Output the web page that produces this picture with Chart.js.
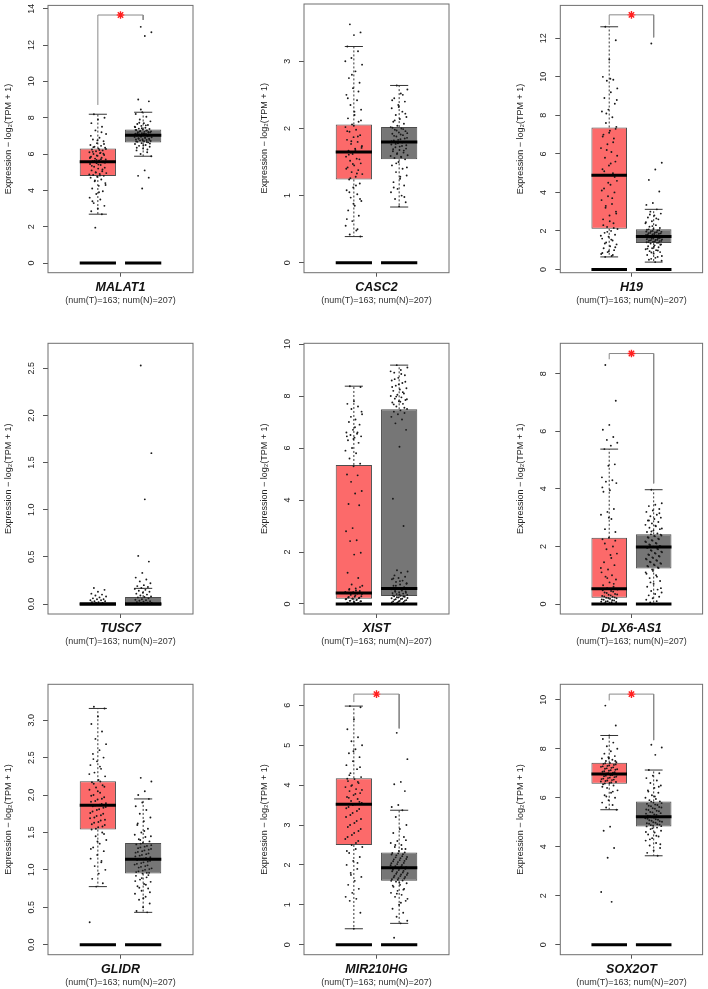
<!DOCTYPE html>
<html>
<head>
<meta charset="utf-8">
<script src="https://cdn.jsdelivr.net/npm/chart.js@4.4.1/dist/chart.umd.min.js"></script>
<style>
html, body { margin: 0; padding: 0; background: #fff; }
#wrap { position: relative; width: 708px; height: 989px; overflow: hidden; }
#wrap canvas { position: absolute; }
</style>
</head>
<body>
<div id="wrap"></div>
<script>
// ---- data ----
var genes = ["MALAT1", "CASC2", "H19", "TUSC7", "XIST", "DLX6-AS1", "GLIDR", "MIR210HG", "SOX2OT"];
var subtitle = "(num(T)=163; num(N)=207)";
var yTitle = "Expression \u2212 log\u2082(TPM + 1)";

// [lower whisker, q1, median, q3, upper whisker]
var tStats = [
    [2.69, 4.79, 5.57, 6.30, 8.19],
    [0.39, 1.24, 1.65, 2.06, 3.22],
    [0.65, 2.11, 4.89, 7.37, 12.6],
    [0, 0, 0, 0, 0],
    [0, 0.205, 0.42, 5.35, 8.38],
    [0, 0.22, 0.53, 2.30, 5.38],
    [0.776, 1.538, 1.864, 2.185, 3.157],
    [0.40, 2.50, 3.52, 4.17, 5.98],
    [5.51, 6.57, 6.97, 7.43, 8.54]
];
var nStats = [
    [5.88, 6.64, 7.03, 7.35, 8.30],
    [0.83, 1.54, 1.80, 2.02, 2.64],
    [0.38, 1.37, 1.71, 2.09, 3.12],
    [0, 0, 0, 0.074, 0.166],
    [0, 0.31, 0.60, 7.49, 9.19],
    [0, 1.23, 1.98, 2.42, 3.97],
    [0.432, 0.95, 1.141, 1.36, 1.948],
    [0.535, 1.60, 1.93, 2.31, 3.37],
    [3.63, 4.83, 5.22, 5.85, 7.13]
];

var tPoints = [
    [8.19, 8.0, 7.9, 7.7, 7.5, 7.3, 7.1, 6.9, 6.8, 6.7, 6.6, 6.5, 6.45, 6.4, 6.35, 6.3, 6.25, 6.2, 6.15, 6.1, 6.05, 6.0, 5.95, 5.9, 5.85, 5.8, 5.75, 5.7, 5.65, 5.6, 5.55, 5.5, 5.45, 5.4, 5.3, 5.25, 5.2, 5.1, 5.05, 5.0, 4.95, 4.9, 4.85, 4.8, 4.75, 4.7, 4.6, 4.5, 4.4, 4.25, 4.1, 3.95, 3.8, 3.6, 3.5, 3.3, 3.15, 3.0, 2.85, 2.69, 1.95,
     6.28, 6.22, 6.12, 6.02, 5.92, 5.82, 5.72, 5.62, 5.52, 5.42, 5.35, 5.15, 4.98, 4.88, 4.82, 6.38, 6.55, 6.75, 7.0, 7.2, 4.55, 4.3, 3.9, 3.4, 5.58, 5.68, 5.78, 6.08],
    [3.55, 3.43, 3.39, 3.22, 3.15, 3.05, 2.95, 2.85, 2.75, 2.68, 2.6, 2.5, 2.42, 2.35, 2.28, 2.2, 2.15, 2.1, 2.06, 2.02, 1.98, 1.95, 1.9, 1.87, 1.83, 1.8, 1.77, 1.73, 1.7, 1.67, 1.65, 1.62, 1.58, 1.55, 1.52, 1.48, 1.45, 1.42, 1.38, 1.35, 1.32, 1.28, 1.24, 1.18, 1.12, 1.08, 1.02, 0.97, 0.92, 0.85, 0.78, 0.7, 0.62, 0.55, 0.48, 0.42, 0.39,
     2.04, 1.96, 1.88, 1.81, 1.74, 1.68, 1.61, 1.54, 1.47, 1.4, 1.33, 1.26, 2.12, 2.25, 2.45, 2.55, 2.8, 3.0, 1.15, 1.05, 0.95, 0.88, 0.65, 0.5, 1.64, 1.71],
    [12.6, 11.9, 10.9, 10.0, 9.85, 9.8, 9.4, 9.2, 8.9, 8.6, 8.3, 8.2, 7.9, 7.6, 7.4, 7.2, 7.0, 6.8, 6.5, 6.3, 6.1, 5.8, 5.6, 5.4, 5.2, 5.0, 4.9, 4.6, 4.4, 4.2, 4.0, 3.8, 3.6, 3.4, 3.2, 3.0, 2.8, 2.6, 2.4, 2.2, 2.1, 2.0, 1.9, 1.8, 1.7, 1.6, 1.5, 1.4, 1.3, 1.2, 1.1, 1.0, 0.9, 0.8, 0.7, 0.65,
     7.3, 7.1, 6.9, 6.6, 6.2, 5.9, 5.5, 5.1, 4.8, 4.5, 4.1, 3.7, 3.3, 2.9, 2.5, 2.3, 2.15, 1.95, 1.75, 1.55, 1.35, 1.15, 0.95, 0.85, 0.75, 8.1, 8.8, 9.9],
    [0.17, 0.15, 0.13, 0.11, 0.1, 0.09, 0.08, 0.07, 0.06, 0.05, 0.05, 0.04, 0.04, 0.03, 0.03, 0.02, 0.02, 0.01, 0.01, 0, 0, 0, 0, 0, 0],
    [8.38, 8.35, 7.8, 7.7, 7.6, 7.5, 7.3, 7.1, 7.0, 6.9, 6.7, 6.6, 6.55, 6.5, 6.45, 6.4, 6.3, 6.2, 6.0, 5.9, 5.8, 5.6, 5.4, 5.3, 4.98, 4.95, 4.7, 4.35, 4.25, 3.85, 3.8, 2.92, 2.8, 2.45, 2.42, 1.97, 1.9, 1.2, 1.0, 0.75, 0.7, 0.6, 0.55, 0.5, 0.45, 0.42, 0.4, 0.35, 0.3, 0.28, 0.25, 0.22, 0.2, 0.18, 0.15, 0.12, 0.1, 0.08, 0.05, 0.02,
     0.41, 0.38, 0.33, 0.27, 0.24, 0.21, 0.19, 0.16, 0.13, 0.11, 0.07, 0.04, 0.03, 0.01, 0.46, 0.52, 0.58, 0.65, 6.35, 6.45, 6.6, 7.2, 7.4, 6.8],
    [8.3, 7.06, 6.22, 6.05, 5.8, 5.7, 5.6, 5.5, 5.38, 4.85, 4.8, 4.4, 4.3, 4.25, 4.2, 3.95, 3.9, 3.3, 3.2, 3.1, 2.95, 2.6, 2.5, 2.3, 2.25, 2.0, 1.9, 1.75, 1.7, 1.45, 1.35, 1.2, 1.1, 1.0, 0.95, 0.85, 0.75, 0.65, 0.6, 0.55, 0.5, 0.45, 0.4, 0.35, 0.32, 0.28, 0.25, 0.22, 0.2, 0.18, 0.15, 0.12, 0.1, 0.08, 0.06, 0.04, 0.02,
     0.52, 0.48, 0.43, 0.38, 0.33, 0.3, 0.26, 0.23, 0.21, 0.16, 0.13, 0.09, 0.07, 0.03, 0.01, 0.7, 0.9, 1.25, 1.6, 2.1, 2.2, 3.0, 4.05],
    [3.18, 3.157, 3.05, 2.95, 2.85, 2.75, 2.68, 2.6, 2.55, 2.5, 2.45, 2.4, 2.35, 2.3, 2.25, 2.2, 2.17, 2.13, 2.1, 2.07, 2.03, 2.0, 1.97, 1.94, 1.91, 1.88, 1.86, 1.84, 1.81, 1.78, 1.75, 1.72, 1.69, 1.66, 1.63, 1.6, 1.57, 1.54, 1.5, 1.45, 1.4, 1.35, 1.3, 1.25, 1.2, 1.15, 1.1, 1.05, 1.0, 0.95, 0.88, 0.82, 0.776, 0.3,
     2.18, 2.15, 2.11, 2.05, 1.99, 1.95, 1.92, 1.89, 1.87, 1.85, 1.83, 1.8, 1.76, 1.73, 1.7, 1.67, 1.64, 1.61, 1.58, 1.55, 2.28, 2.38, 2.48, 1.48, 1.38, 1.28, 1.12],
    [5.98, 5.95, 5.65, 5.4, 5.2, 5.1, 5.0, 4.9, 4.8, 4.7, 4.6, 4.5, 4.4, 4.3, 4.2, 4.15, 4.1, 4.05, 4.0, 3.95, 3.9, 3.85, 3.8, 3.75, 3.7, 3.65, 3.6, 3.55, 3.52, 3.45, 3.4, 3.3, 3.2, 3.1, 3.0, 2.9, 2.8, 2.7, 2.6, 2.5, 2.45, 2.4, 2.3, 2.2, 2.1, 2.0, 1.9, 1.8, 1.7, 1.6, 1.5, 1.4, 1.3, 1.2, 1.15, 1.1, 0.8, 0.4,
     4.16, 4.08, 3.98, 3.88, 3.78, 3.68, 3.58, 3.5, 3.42, 3.35, 3.25, 3.15, 3.05, 2.95, 2.85, 2.75, 2.65, 2.55, 4.25, 4.45, 4.85, 2.35, 2.05, 1.75],
    [9.76, 8.95, 8.54, 8.4, 8.25, 8.1, 8.0, 7.9, 7.8, 7.7, 7.65, 7.6, 7.55, 7.5, 7.45, 7.42, 7.38, 7.34, 7.3, 7.26, 7.22, 7.18, 7.14, 7.1, 7.06, 7.02, 6.98, 6.95, 6.92, 6.88, 6.84, 6.8, 6.76, 6.72, 6.68, 6.64, 6.6, 6.55, 6.5, 6.4, 6.3, 6.2, 6.1, 6.0, 5.9, 5.8, 5.7, 5.6, 5.51, 4.82, 4.65, 3.95, 3.55, 2.15, 1.75,
     7.41, 7.36, 7.32, 7.28, 7.24, 7.2, 7.16, 7.12, 7.08, 7.04, 7.0, 6.96, 6.93, 6.9, 6.86, 6.82, 6.78, 6.74, 6.7, 6.66, 6.62, 6.58, 7.5, 7.6, 6.45, 6.25, 6.05]
];
var nPoints = [
    [13.0, 12.7, 12.5, 9.0, 8.9, 8.3, 8.2, 8.05, 7.9, 7.8, 7.7, 7.65, 7.6, 7.55, 7.5, 7.45, 7.4, 7.38, 7.35, 7.32, 7.3, 7.27, 7.25, 7.22, 7.2, 7.17, 7.15, 7.12, 7.1, 7.08, 7.05, 7.03, 7.0, 6.98, 6.95, 6.92, 6.9, 6.87, 6.85, 6.82, 6.8, 6.77, 6.75, 6.72, 6.7, 6.67, 6.64, 6.6, 6.55, 6.5, 6.45, 6.4, 6.3, 6.2, 6.1, 6.0, 5.88, 5.1, 4.8, 4.7, 4.1,
     7.33, 7.29, 7.24, 7.19, 7.14, 7.09, 7.04, 6.99, 6.94, 6.89, 6.84, 6.79, 6.74, 6.69, 6.66, 7.02, 7.06, 7.11, 7.16, 7.21, 7.42, 7.48, 7.58, 7.72, 6.58, 6.48, 6.35, 6.25, 8.45],
    [2.64, 2.58, 2.52, 2.45, 2.4, 2.35, 2.3, 2.25, 2.2, 2.17, 2.14, 2.1, 2.07, 2.04, 2.02, 2.0, 1.98, 1.96, 1.94, 1.92, 1.9, 1.88, 1.86, 1.84, 1.82, 1.8, 1.78, 1.76, 1.74, 1.72, 1.7, 1.68, 1.66, 1.64, 1.62, 1.6, 1.58, 1.56, 1.54, 1.5, 1.45, 1.4, 1.35, 1.3, 1.25, 1.2, 1.15, 1.1, 1.05, 1.0, 0.95, 0.9, 0.84,
     2.01, 1.99, 1.97, 1.93, 1.91, 1.89, 1.85, 1.83, 1.81, 1.79, 1.77, 1.75, 1.73, 1.69, 1.67, 1.63, 1.59, 1.57, 2.12, 2.22, 2.32, 2.42, 2.5, 1.48, 1.42, 1.28, 1.12, 0.98],
    [11.73, 5.54, 5.19, 4.65, 4.05, 3.45, 3.35, 3.12, 3.0, 2.9, 2.8, 2.7, 2.6, 2.5, 2.4, 2.3, 2.22, 2.15, 2.1, 2.06, 2.02, 1.98, 1.95, 1.92, 1.88, 1.85, 1.82, 1.79, 1.76, 1.73, 1.71, 1.68, 1.65, 1.62, 1.59, 1.56, 1.53, 1.5, 1.47, 1.44, 1.41, 1.38, 1.35, 1.3, 1.25, 1.2, 1.15, 1.1, 1.05, 1.0, 0.95, 0.9, 0.82, 0.75, 0.65, 0.55, 0.45, 0.38,
     2.08, 2.04, 2.0, 1.97, 1.93, 1.9, 1.87, 1.84, 1.8, 1.77, 1.74, 1.72, 1.69, 1.66, 1.63, 1.6, 1.57, 1.54, 1.51, 1.48, 1.45, 1.42, 1.39, 2.25, 2.45, 2.65, 2.85, 1.28, 1.18, 1.08, 0.98, 0.88, 0.7, 0.6, 0.5],
    [2.53, 1.6, 1.11, 0.51, 0.45, 0.33, 0.28, 0.26, 0.24, 0.22, 0.2, 0.19, 0.18, 0.17, 0.16, 0.15, 0.14, 0.13, 0.12, 0.11, 0.1, 0.09, 0.08, 0.075, 0.07, 0.06, 0.05, 0.045, 0.04, 0.035, 0.03, 0.025, 0.02, 0.015, 0.01, 0.01, 0.005, 0, 0, 0],
    [9.19, 9.1, 9.0, 8.9, 8.8, 8.7, 8.6, 8.5, 8.4, 8.3, 8.25, 8.2, 8.1, 8.05, 8.0, 7.95, 7.9, 7.85, 7.8, 7.75, 7.7, 7.6, 7.5, 7.45, 7.4, 7.35, 7.3, 7.2, 7.1, 6.95, 6.7, 6.05, 4.05, 3.0, 1.3, 1.25, 1.2, 1.1, 1.05, 1.0, 0.95, 0.9, 0.85, 0.8, 0.75, 0.7, 0.65, 0.6, 0.58, 0.55, 0.5, 0.48, 0.45, 0.42, 0.4, 0.38, 0.35, 0.32, 0.3, 0.28, 0.25, 0.22, 0.2, 0.18, 0.15, 0.12, 0.1, 0.08, 0.05,
     8.95, 8.85, 8.65, 8.55, 8.45, 8.35, 8.15, 7.98, 7.88, 7.78, 7.68, 7.55, 0.62, 0.57, 0.52, 0.47, 0.43, 0.37, 0.33, 0.29, 0.26, 0.23, 0.19, 0.16, 0.13, 0.09, 0.06, 0.03, 0.7, 0.78, 0.88, 0.98],
    [3.97, 3.5, 3.45, 3.4, 3.3, 3.25, 3.2, 3.1, 3.05, 3.0, 2.95, 2.9, 2.85, 2.8, 2.75, 2.7, 2.65, 2.6, 2.55, 2.5, 2.45, 2.42, 2.38, 2.35, 2.3, 2.25, 2.2, 2.15, 2.1, 2.05, 2.0, 1.98, 1.95, 1.9, 1.85, 1.8, 1.75, 1.7, 1.65, 1.6, 1.55, 1.5, 1.45, 1.4, 1.35, 1.3, 1.25, 1.2, 1.1, 1.0, 0.9, 0.8, 0.7, 0.6, 0.5, 0.45, 0.4, 0.35, 0.3, 0.25, 0.2, 0.15, 0.1, 0.05,
     2.41, 2.36, 2.32, 2.27, 2.22, 2.17, 2.12, 2.07, 2.02, 1.99, 1.96, 1.92, 1.87, 1.82, 1.77, 1.72, 1.67, 1.62, 1.57, 1.52, 1.47, 1.42, 1.37, 1.32, 1.27, 2.52, 2.62, 2.72, 2.9, 3.15, 1.15, 1.05, 0.95, 0.75, 0.55],
    [2.23, 2.18, 2.05, 2.0, 1.948, 1.9, 1.85, 1.8, 1.75, 1.7, 1.65, 1.6, 1.55, 1.5, 1.47, 1.44, 1.41, 1.38, 1.36, 1.34, 1.32, 1.3, 1.28, 1.26, 1.24, 1.22, 1.2, 1.18, 1.16, 1.14, 1.12, 1.1, 1.08, 1.06, 1.04, 1.02, 1.0, 0.98, 0.96, 0.95, 0.92, 0.9, 0.87, 0.84, 0.81, 0.78, 0.75, 0.72, 0.68, 0.64, 0.6, 0.55, 0.5, 0.45, 0.432,
     1.35, 1.33, 1.31, 1.29, 1.27, 1.25, 1.23, 1.21, 1.19, 1.17, 1.15, 1.13, 1.11, 1.09, 1.07, 1.05, 1.03, 1.01, 0.99, 0.97, 0.96, 1.4, 1.45, 1.52, 1.62, 0.93, 0.89, 0.85, 0.8, 0.76, 0.7, 0.62],
    [5.31, 4.65, 4.08, 4.02, 3.85, 3.5, 3.45, 3.37, 3.2, 3.0, 2.9, 2.8, 2.7, 2.6, 2.55, 2.5, 2.45, 2.4, 2.35, 2.3, 2.27, 2.24, 2.2, 2.17, 2.14, 2.1, 2.07, 2.04, 2.0, 1.97, 1.94, 1.91, 1.88, 1.85, 1.82, 1.79, 1.76, 1.73, 1.7, 1.67, 1.64, 1.61, 1.58, 1.54, 1.5, 1.45, 1.4, 1.35, 1.3, 1.25, 1.2, 1.1, 1.0, 0.9, 0.8, 0.7, 0.6, 0.535, 0.175,
     2.31, 2.29, 2.26, 2.22, 2.19, 2.15, 2.12, 2.09, 2.05, 2.02, 1.99, 1.96, 1.93, 1.9, 1.87, 1.84, 1.81, 1.78, 1.75, 1.72, 1.69, 1.66, 1.63, 1.6, 2.4, 2.5, 2.62, 1.55, 1.48, 1.38, 1.28, 1.15, 1.05],
    [8.16, 8.05, 7.75, 7.13, 7.0, 6.9, 6.8, 6.7, 6.6, 6.5, 6.4, 6.3, 6.2, 6.1, 6.0, 5.95, 5.9, 5.85, 5.8, 5.75, 5.7, 5.65, 5.6, 5.55, 5.5, 5.45, 5.4, 5.35, 5.3, 5.25, 5.22, 5.18, 5.14, 5.1, 5.06, 5.02, 4.98, 4.94, 4.9, 4.86, 4.83, 4.78, 4.72, 4.65, 4.58, 4.5, 4.42, 4.35, 4.25, 4.15, 4.05, 3.95, 3.85, 3.75, 3.63,
     5.84, 5.78, 5.72, 5.67, 5.62, 5.57, 5.52, 5.47, 5.42, 5.37, 5.32, 5.27, 5.23, 5.2, 5.16, 5.12, 5.08, 5.04, 5.0, 4.96, 4.92, 4.88, 4.84, 6.05, 6.25, 6.45, 4.75, 4.6, 4.45, 4.3, 4.1]
];

// axis limits and ticks
var yLimits = [[-0.53, 14.18], [-0.148, 3.853], [-0.17, 13.71], [-0.106, 2.765], [-0.385, 10.03], [-0.347, 9.055], [-0.134, 3.48], [-0.25, 6.526], [-0.408, 10.63]];
var yTicks = [
    [0, 2, 4, 6, 8, 10, 12, 14],
    [0, 1, 2, 3],
    [0, 2, 4, 6, 8, 10, 12],
    [0, 0.5, 1, 1.5, 2, 2.5],
    [0, 2, 4, 6, 8, 10],
    [0, 2, 4, 6, 8],
    [0, 0.5, 1, 1.5, 2, 2.5, 3],
    [0, 1, 2, 3, 4, 5, 6],
    [0, 2, 4, 6, 8, 10]
];
var tickDigits = [0, 0, 0, 1, 0, 0, 1, 0, 0];
// significance bracket: [top, left foot, right foot]
var brackets = [[13.65, 8.7, 13.38], null, [13.22, 12.7, 12.05], null, null, [8.70, 8.5, 4.19], null, [6.28, 6.08, 5.42], [10.23, 9.97, 8.35]];

// ---- layout ----
var cellW = 236, cellH = 330;
var frameLeft = [48, 68, 88.3];
var frameTop = [2.7, 13.3, 24.3];
var frameBottom = [272.7, 284, 294.7];
var frameW = 145;
var yAxisW = 44.9, xAxisH = 33.4;
var boxHalf = 0.4, capHalf = 0.2;
var colT = "#fc6a6a", colN = "#767676";

Chart.defaults.font.family = '"Liberation Sans", Arial, Helvetica, sans-serif';

var rFrame = {
    id: "rFrame",
    afterDraw: function (chart, args, opts) {
        var ctx = chart.ctx, a = chart.chartArea, ys = chart.scales.y;
        ctx.save();
        ctx.strokeStyle = "#6f6f6f";
        ctx.lineWidth = 1;
        ctx.strokeRect(a.left, a.top, a.right - a.left, a.bottom - a.top);
        ctx.fillStyle = "#222";
        ctx.font = '9px "Liberation Sans", Arial, sans-serif';
        ctx.textAlign = "center";
        ctx.textBaseline = "middle";
        ys.ticks.forEach(function (t) {
            ctx.save();
            ctx.translate(a.left - 16.5, ys.getPixelForValue(t.value));
            ctx.rotate(-Math.PI / 2);
            ctx.fillText(t.value.toFixed(opts.digits), 0, 0);
            ctx.restore();
        });
        ctx.restore();
    }
};

function jitter(i) {
    return ((i * 0.618034 + 0.27) % 1 - 0.5) * 0.38;
}

var wrap = document.getElementById("wrap");

genes.forEach(function (gene, p) {
    var col = p % 3, row = Math.floor(p / 3);
    var cv = document.createElement("canvas");
    cv.width = cellW;
    cv.height = cellH;
    cv.style.left = col * cellW + "px";
    cv.style.top = row * cellH + "px";
    wrap.appendChild(cv);

    var groups = [tStats[p], nStats[p]];
    var boxes = [], whisk = [], caps = [], meds = [], zeros = [];
    groups.forEach(function (s, i) {
        var c = i + 1;
        boxes.push({x: c, y: [s[1], s[3]]});
        whisk.push({x: c, y: s[3]}, {x: c, y: s[4]}, {x: c, y: null});
        whisk.push({x: c, y: s[1]}, {x: c, y: s[0]}, {x: c, y: null});
        caps.push({x: c - capHalf, y: s[4]}, {x: c + capHalf, y: s[4]}, {x: c, y: null});
        caps.push({x: c - capHalf, y: s[0]}, {x: c + capHalf, y: s[0]}, {x: c, y: null});
        meds.push({x: c - boxHalf, y: s[2]}, {x: c + boxHalf, y: s[2]}, {x: c, y: null});
        zeros.push({x: c - boxHalf, y: 0}, {x: c + boxHalf, y: 0}, {x: c, y: null});
    });
    var pts = tPoints[p].map(function (v, i) { return {x: 1 + jitter(i), y: v}; })
        .concat(nPoints[p].map(function (v, i) { return {x: 2 + jitter(i + 5), y: v}; }));

    var lineBase = {type: "line", pointRadius: 0, spanGaps: false, tension: 0, fill: false};
    var datasets = [
        {type: "bar", data: boxes, backgroundColor: [colT, colN], borderColor: "#4d4d4d", borderWidth: 1,
            borderSkipped: false, categoryPercentage: 0.8, barPercentage: 1, order: 6},
        Object.assign({data: whisk, borderColor: "#333", borderWidth: 1, borderDash: [2, 2], order: 5}, lineBase),
        Object.assign({data: caps, borderColor: "#333", borderWidth: 1, order: 5}, lineBase),
        {type: "scatter", data: pts, pointRadius: 0.95, pointBorderWidth: 0, backgroundColor: "#1a1a1a", order: 4},
        Object.assign({data: meds, borderColor: "#000", borderWidth: 3, borderCapStyle: "butt", order: 3}, lineBase),
        Object.assign({data: zeros, borderColor: "#000", borderWidth: 3, borderCapStyle: "butt", order: 2}, lineBase)
    ];
    var b = brackets[p];
    if (b) {
        datasets.push(Object.assign({
            data: [{x: 1, y: b[1]}, {x: 1, y: b[0]}, {x: 1.42, y: b[0]}, {x: 1.42, y: null},
                {x: 1.58, y: b[0]}, {x: 2, y: b[0]}, {x: 2, y: b[2]}],
            borderColor: "#8a8a8a", borderWidth: 1, order: 1
        }, lineBase));
        datasets.push({type: "scatter", data: [{x: 1.5, y: b[0]}], pointStyle: "star", pointRadius: 3.8,
            borderColor: "#ff2020", pointBorderWidth: 1.4, backgroundColor: "#ff2020", order: 0});
    }

    new Chart(cv, {
        type: "bar",
        data: {datasets: datasets},
        plugins: [rFrame],
        options: {
            responsive: false,
            animation: false,
            events: [],
            layout: {
                padding: {
                    left: frameLeft[col] - yAxisW,
                    right: cellW - frameLeft[col] - frameW,
                    top: frameTop[row],
                    bottom: cellH - frameBottom[row] - xAxisH
                }
            },
            plugins: {
                legend: {display: false},
                tooltip: {enabled: false},
                rFrame: {digits: tickDigits[p]}
            },
            scales: {
                x: {
                    type: "linear",
                    min: -0.1,
                    max: 3.1,
                    offset: false,
                    afterBuildTicks: function (s) { s.ticks = [{value: 1.5}]; },
                    afterFit: function (s) { s.height = xAxisH; },
                    grid: {display: true, drawOnChartArea: false, offset: false, tickLength: 4, color: "#555"},
                    border: {display: false},
                    ticks: {
                        autoSkip: false, maxRotation: 0, padding: 3, color: "#111",
                        font: {size: 12.5, style: "italic", weight: "bold"},
                        callback: function () { return gene; }
                    },
                    title: {display: true, text: subtitle, color: "#333", font: {size: 9}, padding: 0}
                },
                y: {
                    type: "linear",
                    min: yLimits[p][0],
                    max: yLimits[p][1],
                    afterBuildTicks: function (s) { s.ticks = yTicks[p].map(function (v) { return {value: v}; }); },
                    afterFit: function (s) { s.width = yAxisW; },
                    grid: {display: true, drawOnChartArea: false, tickLength: 5, color: "#555"},
                    border: {display: false},
                    ticks: {display: false},
                    title: {display: true, text: yTitle, color: "#222", font: {size: 9}, padding: 0}
                }
            }
        }
    });
});
</script>
</body>
</html>
